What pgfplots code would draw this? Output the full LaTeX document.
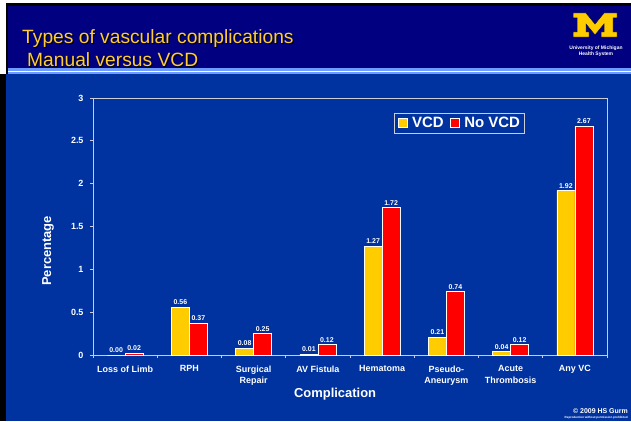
\documentclass[border=0pt]{standalone}
\usepackage{fontspec}
\setmainfont{Liberation Sans}
\usepackage{pgfplots}
\pgfplotsset{compat=1.18}

\definecolor{slideblue}{RGB}{0,51,160}
\definecolor{navyblue}{RGB}{0,0,128}
\definecolor{titleyellow}{RGB}{255,204,51}
\definecolor{vcdyellow}{RGB}{255,204,0}
\definecolor{novcdred}{RGB}{255,0,0}
\definecolor{framegray}{RGB}{205,205,215}
\definecolor{rulelight}{RGB}{110,155,255}

\begin{document}
\begin{tikzpicture}[x=1bp,y=1bp]
% slide background
\fill[slideblue] (0,0) rectangle (631,421);
\fill[navyblue] (0,353) rectangle (631,415);
\fill[rulelight] (0,347) rectangle (631,353);
\fill[white] (0,349.2) rectangle (631,350.4);
\fill[black] (0,415) rectangle (631,418);
\fill[white] (0,418) rectangle (631,421);
\fill[black] (0,0) rectangle (6,347);
\fill[white] (0,347) rectangle (6,421);
\fill[black] (6,347) rectangle (8,418);

% title
\node[anchor=base west,inner sep=0,text=black,font=\fontsize{19.3}{20}\selectfont] at (23,377) {Types of vascular complications};
\node[anchor=base west,inner sep=0,text=titleyellow,font=\fontsize{19.3}{20}\selectfont] at (22,378) {Types of vascular complications};
\node[anchor=base west,inner sep=0,text=black,font=\fontsize{19.3}{20}\selectfont] at (28,354) {Manual versus VCD};
\node[anchor=base west,inner sep=0,text=titleyellow,font=\fontsize{19.3}{20}\selectfont] at (27,355) {Manual versus VCD};

% logo
\begin{scope}[shift={(573,408)},y=-1bp]
\filldraw[fill=vcdyellow,draw=navyblue!60!black,line width=0.5bp]
 (0,0)--(13,0)--(22,11)--(31,0)--(44,0)--(44,5)--(40,5)--(40,19)--(44,19)--(44,24)
 --(28,24)--(28,19)--(31,19)--(31,11)--(22,22)--(13,11)--(13,19)--(16,19)--(16,24)
 --(0,24)--(0,19)--(4,19)--(4,5)--(0,5)--cycle;
\end{scope}
\node[text=white,font=\bfseries\fontsize{5}{5.5}\selectfont,inner sep=0,align=center] at (596,370) {University of Michigan\\Health System};

% footer
\node[anchor=base east,inner sep=0,text=white,font=\bfseries\fontsize{7}{7}\selectfont] at (628,8) {\textcopyright{} 2009 HS Gurm};
\node[anchor=base east,inner sep=0,text=white,font=\bfseries\fontsize{3}{3}\selectfont] at (628,2.5) {Reproduction without permission prohibited};

\begin{axis}[
  at={(93bp,66bp)}, anchor=south west,
  scale only axis, width=514bp, height=257bp,
  xmin=-0.5, xmax=7.5, ymin=0, ymax=3,
  ybar=0pt, bar width=18bp,
  axis line style={framegray, line width=0.8bp},
  xtick={-0.5,0.5,...,7.5}, xticklabels={,,,,,,,,,},
  extra x ticks={0,1,...,7},
  extra x tick labels={Loss of Limb,RPH,{Surgical\\Repair},AV Fistula,Hematoma,{Pseudo-\\Aneurysm},{Acute\\Thrombosis},Any VC},
  extra x tick style={major tick length=0pt},
  ytick={0,0.5,...,3},
  xtick pos=bottom, ytick pos=left,
  tick align=outside, major tick length=3bp,
  tick style={framegray, line width=0.8bp},
  /pgf/number format/assume math mode=true,
  ticklabel style={text=white, font=\bfseries\fontsize{9}{12}\selectfont},
  xticklabel style={align=center, yshift=-7bp},
  yticklabel style={xshift=-3bp},
  xlabel={Complication}, ylabel={Percentage},
  label style={text=white, font=\bfseries\fontsize{13}{13}\selectfont},
  xlabel style={at={(axis description cs:0.471,-0.152)}, anchor=center},
  ylabel style={at={(axis description cs:-0.0875,0.405)}, anchor=center},
  nodes near coords={\pgfmathprintnumber[fixed,fixed zerofill,precision=2]{\pgfplotspointmeta}},
  nodes near coords style={text=white, font=\bfseries\fontsize{7}{7}\selectfont, anchor=south, inner sep=2bp},
  legend style={at={(0.586,0.942)}, anchor=north west, draw=framegray, fill=none,
    line width=0.8bp, text=white, font=\bfseries\fontsize{15}{15}\selectfont,
    inner sep=2bp, /tikz/every even column/.append style={column sep=3bp}},
  legend columns=2,
]
\addplot[fill=vcdyellow, draw=white, line width=0.6bp,
  legend image code/.code={\draw[fill=vcdyellow,draw=white,line width=0.6bp] (0bp,-4.5bp) rectangle (9bp,4.5bp); \path (-1bp,0bp) (12bp,0bp);}]
  coordinates {(0,0.00) (1,0.56) (2,0.08) (3,0.01) (4,1.27) (5,0.21) (6,0.04) (7,1.92)};
\addplot[fill=novcdred, draw=white, line width=0.6bp,
  legend image code/.code={\draw[fill=novcdred,draw=white,line width=0.6bp] (0bp,-4.5bp) rectangle (9bp,4.5bp); \path (-1bp,0bp) (12bp,0bp);}]
  coordinates {(0,0.02) (1,0.37) (2,0.25) (3,0.12) (4,1.72) (5,0.74) (6,0.12) (7,2.67)};
\legend{VCD,No VCD}
\end{axis}
\pgfresetboundingbox
\path[use as bounding box] (0,0) rectangle (631,421);
\end{tikzpicture}
\end{document}
